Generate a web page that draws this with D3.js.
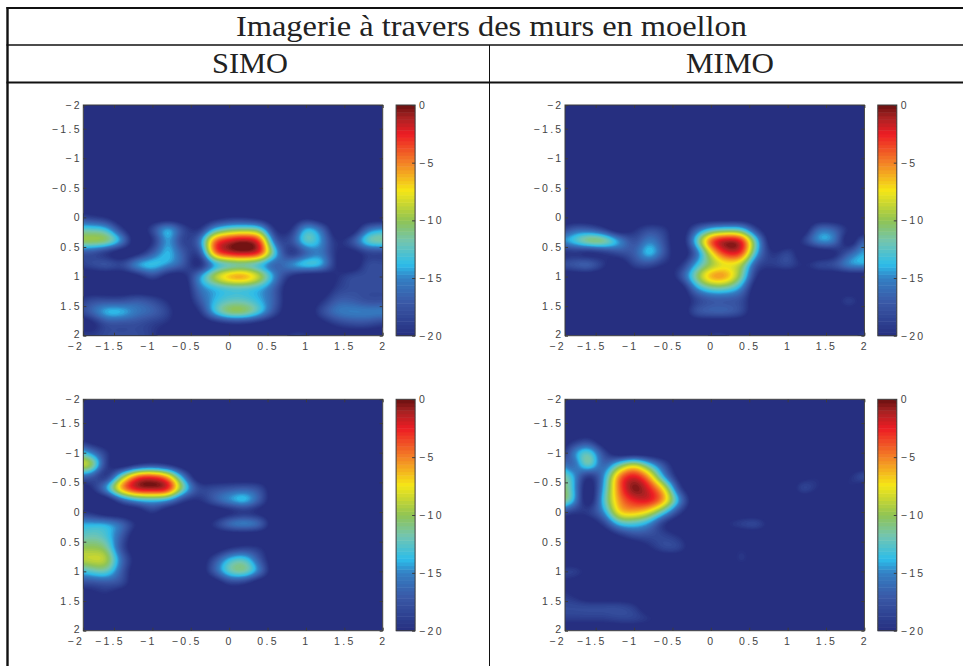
<!DOCTYPE html>
<html><head><meta charset="utf-8">
<style>html,body{margin:0;padding:0;background:#fff}svg{display:block}</style>
<script src="https://cdn.jsdelivr.net/npm/d3@7"></script></head>
<body><svg id="c" width="963" height="666"></svg>
<script>
const title = "Imagerie à travers des murs en moellon";
const columns = ["SIMO", "MIMO"];
const gridX = [-2,-1.8,-1.6,-1.4,-1.2,-1,-.8,-.6,-.4,-.2,0,.2,.4,.6,.8,1,1.2,1.4,1.6,1.8,2];
const gridY = [-2,-1.8,-1.6,-1.4,-1.2,-1,-.8,-.6,-.4,-.2,0,.2,.4,.6,.8,1,1.2,1.4,1.6,1.8,2];
const tickValues = [-1.9,-1.5,-1,-.5,0,.5,1,1.5,2];
const tickLabels = ["\u22122","\u22121.5","\u22121","\u22120.5","0","0.5","1","1.5","2"];
const barTicks = [0,-5,-10,-15,-20];
const barLabels = ["0","\u22125","\u221210","\u221215","\u221220"];
const colorStops = [-20,-17,-15,-13.8,-11.8,-10,-7.4,-5,-2.5,-1,0];
const colorValues = ["#262f80","#3a5aa8","#3480c4","#2dbdea","#73c5b0","#90c454","#f5e616","#f38226","#ed1c24","#a52222","#6a1010"];
const o = -22;
const e = [o,o,o,o,o,o,o,o,o,o,o,o,o,o,o,o,o,o,o,o,o];

const simoTop = [e,e,e,e,e,e,e,e,e,e,
 [-18,-19,-20,o,o,o,o,o,o,-21,-20,-20,-21,o,o,-20.5,o,o,o,o,o],
 [-12.5,-12.5,-13.5,-19,o,-18,-13.5,-18,-20,-14,-11.5,-11,-12,-20,-20,-13.5,-16,o,o,-16,-14.5],
 [-9.5,-9.5,-10,-14.5,o,-20,-14,-19,-16.5,-4.5,-1.5,-.3,-3,-17,-18,-12,-14.5,-20,-17.5,-12,-11],
 [-18,-18,-20,o,-21,-17,-13.5,-17,-19,-5,-1.5,-.8,-2.5,-13,-20,-17,-15.5,-20,-21,-19,-19],
 [-19,-18,-17,-18,-14,-13,-14.5,-17,-21,-15,-13,-12.5,-14,-17,-14.5,-12.5,-13.5,-20,o,-18,-18],
 [o,o,o,o,-21,-18,-21,-21,-15,-9,-5.5,-5,-8.5,-15,-20,o,o,-20,-18,-18,-18],
 [o,o,o,o,o,o,o,o,-16,-14,-13,-13,-14,-17,o,o,o,-19,-18,-18,-18],
 [-20,-18,-18,-18,-17,-18,-20,o,-17.5,-14,-12.5,-12.5,-14,-17,o,o,-20,-17,-17,-18,-18],
 [-19,-16.5,-13.5,-13.5,-15.5,-16.5,-18.5,o,-20,-13.5,-10,-10,-13,-18,o,o,-18,-15.5,-15,-15,-15],
 [o,-21,-18,-18,-18,-19,-20,o,o,-21,-20,-20,-21,o,o,o,-21,-19,-18,-18,-19],
 [-18,-19,-18,-18,-18,-19,o,o,o,o,o,o,o,o,-19,-19,o,o,o,o,o]];

const mimoTop = [e,e,e,e,e,e,e,e,e,e,e,
 [-20,-17,-17,-19,o,-20,-18,-19,o,-17,-13.5,-12.5,-13,-19,o,o,o,-16,-16.5,-20,o],
 [-15,-13,-10,-10,-14,-18,-15,-18,o,-13,-3.5,-.5,-2,-13,o,o,-19,-14.5,-15,o,-16],
 [-21,-20,-21,-20,-18,-17,-13,-17.5,o,-17,-8,-2.5,-3,-14,-20,-18,o,o,-21,-17,-14],
 [-18,-17,-16,-19,o,-18.5,-18,-20,-20,-14,-10,-8,-9.5,-18,-19,-18,-20,-18,-17.5,-14.5,-14],
 [o,o,o,o,o,o,o,o,-18,-11,-5.5,-5.5,-11,-20,o,o,o,o,o,o,o],
 [o,o,o,o,o,o,o,o,o,-15,-12,-12,-15,o,o,o,o,o,o,o,o],
 [o,o,o,o,o,o,o,o,o,-19,-17.5,-17.5,-18,o,o,o,o,o,-21,-18.5,-21],
 [o,o,o,o,o,o,o,o,o,-17.5,-16.5,-16.5,-18,o,o,o,o,o,o,-21,o],
 [o,o,o,o,o,o,o,o,o,o,o,o,o,o,o,o,o,o,o,o,-21],
 [-19,o,o,o,o,o,o,o,o,o,-19,-19,o,o,o,o,o,o,o,o,-18]];

const simoBottom = [e,e,e,e,
 [-19,-21,o,o,o,o,o,o,o,o,o,o,o,o,o,o,o,o,o,o,o],
 [-12,-15,-19,o,o,o,o,o,o,o,o,o,o,o,o,o,o,o,o,o,o],
 [-8,-9,-19,o,-20,-19,-20,o,o,o,o,o,o,o,o,o,o,o,o,o,o],
 [-16,-17,-20,-11,-4,-3,-6,-15,o,o,o,o,o,o,o,o,o,o,o,o,o],
 [o,-20,-14,-5,-1,-.3,-1.5,-11,-18,-18,-17.5,-17,-18,o,o,o,o,o,o,o,o],
 [o,o,o,-17,-14,-13.5,-14.5,-19,-20,-17,-14.5,-13,-17,o,o,o,o,o,o,o,o],
 [-19,-20,o,o,o,-19,o,o,o,o,-21,-20,-21,o,o,o,o,o,o,o,o],
 [-14,-14,-14,-16,-20,o,o,o,o,-19,-15.5,-14.5,-16,o,o,o,o,o,o,o,o],
 [-13,-12,-13,-17,o,o,o,o,o,o,o,o,o,o,o,o,o,o,o,o,o],
 [-10,-10,-11,-18,o,o,-20,o,o,o,-20,-19,-19.5,o,o,o,o,o,o,o,o],
 [-9,-8.5,-9,-16,-21,o,o,o,o,-18,-13.5,-12.5,-17.5,o,o,o,o,o,o,o,o],
 [-14,-12.5,-12,-17,o,o,o,o,o,-17,-12,-11,-15.5,o,o,o,o,o,o,o,o],
 [-18,-18,-17.5,-18,o,o,o,o,o,o,-19,-19.5,o,o,o,o,o,o,o,o,o],
 [o,-21,-20,o,o,o,o,o,o,o,o,o,o,o,o,o,o,o,o,o,o],
 e,e,e];

const mimoBottom = [e,e,e,e,
 [o,-20,-18.5,o,o,o,o,o,o,o,o,o,o,o,o,o,o,o,o,o,o],
 [o,-15.5,-12,-18,o,o,o,o,o,o,o,o,o,o,o,o,o,o,o,o,o],
 [-14,-17,-11,-17,-12,-8.5,-13,-18,o,o,o,o,o,o,o,o,o,o,o,o,o],
 [-10,-13.5,-20,-15,-5,-2,-6,-15,-21,o,o,o,o,o,o,o,-21,-20,o,-20,-17.5],
 [-9,-13,o,-14,-4.5,0,-2.5,-8,-19,o,o,o,o,o,o,o,-18,-20,-21,-20,o],
 [-9,-13,o,-13,-5.5,-2.5,-2,-6,-15,o,o,o,o,o,o,o,o,o,o,o,o],
 [-17,-19,-19,-15,-7,-6,-8,-13,-19,o,o,o,o,o,o,o,o,o,o,o,o],
 [o,o,o,-19,-13.5,-13,-15,-20,o,o,o,-20,-18.5,-18,-21,o,o,o,o,o,o],
 [o,o,o,o,-20,-18,-18,-18.5,-20,o,o,o,o,o,o,o,o,o,o,o,o],
 [o,o,o,o,o,o,-20,-18,-18.5,o,o,o,-20,o,o,o,o,o,o,o,o],
 [o,o,o,o,o,o,o,o,o,o,o,o,-19,o,o,o,o,o,o,o,-20],
 [-19,-18.5,-20.5,o,o,o,o,o,o,o,o,o,o,o,o,o,o,o,o,o,o],
 [-20,-21,o,o,o,o,o,o,o,o,o,o,o,o,o,o,o,o,o,o,o],
 [-19,-20,o,o,o,o,o,o,o,o,o,o,o,o,o,o,o,o,o,o,o],
 [-18,-18,-18,-18,-18,-19,o,o,o,o,o,o,o,o,o,o,o,o,o,o,o],
 [-19,-19,-19,-19,-18.5,-18.5,-19.5,-21,o,o,o,o,o,o,o,o,o,o,o,o,o],
 e];

const panels = [
 {grid:simoTop, x0:83.3, y0:105, y1:335.7},
 {grid:mimoTop, x0:565, y0:105, y1:335.7},
 {grid:simoBottom, x0:83.3, y0:399.3, y1:630.7},
 {grid:mimoBottom, x0:565, y0:399.3, y1:630.7}];
const plotW = 299.4, barGap = 13.4, barW = 19;

const svg = d3.select("#c");
const color = d3.scaleLinear().domain(colorStops).range(colorValues).clamp(true);
const levels = d3.range(64).map(i => -20 + i*20/64);
const UP = 8;

function catmull(p0,p1,p2,p3,t){
  return .5*(2*p1+(p2-p0)*t+(2*p0-5*p1+4*p2-p3)*t*t+(3*p1-p0-3*p2+p3)*t*t*t);
}
function upsample(g){
  const n=g.length,m=g[0].length,W=(m-1)*UP+1,H=(n-1)*UP+1,out=new Float64Array(W*H);
  const at=(r,c)=>g[Math.max(0,Math.min(n-1,r))][Math.max(0,Math.min(m-1,c))];
  for(let j=0;j<H;j++){const r=Math.floor(j/UP),tr=j/UP-r;
    for(let i=0;i<W;i++){const c=Math.floor(i/UP),tc=i/UP-c;
      const col=[-1,0,1,2].map(d=>catmull(at(r+d,c-1),at(r+d,c),at(r+d,c+1),at(r+d,c+2),tc));
      out[j*W+i]=catmull(col[0],col[1],col[2],col[3],tr);
    }}
  if(d3.blur2) d3.blur2({data:out,width:W,height:H},1.5);
  return {W,H,out};
}

panels.forEach((p,idx)=>{
  const x=d3.scaleLinear().domain([-1.9,2]).range([p.x0,p.x0+plotW]);
  const y=d3.scaleLinear().domain([-1.9,2]).range([p.y0,p.y1]);
  const g=svg.append("g");
  const id="clip"+idx;
  g.append("clipPath").attr("id",id).append("rect").attr("x",p.x0).attr("y",p.y0).attr("width",plotW).attr("height",p.y1-p.y0);
  const field=g.append("g").attr("clip-path",`url(#${id})`);
  field.append("rect").attr("x",p.x0).attr("y",p.y0).attr("width",plotW).attr("height",p.y1-p.y0).attr("fill",color(-20));
  const {W,H,out}=upsample(p.grid);
  const gx=d3.scaleLinear().domain([0,W-1]).range([gridX[0],gridX[gridX.length-1]]);
  const gy=d3.scaleLinear().domain([0,H-1]).range([gridY[0],gridY[gridY.length-1]]);
  const path=d3.geoPath(d3.geoTransform({point(a,b){this.stream.point(x(gx(a-.5)),y(gy(b-.5)));}}));
  const cs=d3.contours().size([W,H]).smooth(true).thresholds(levels)(out);
  field.selectAll("path").data(cs).join("path").attr("d",path).attr("fill",d=>color(d.value+10/64));

  const axisCol="#3c3c3c", font="'Liberation Sans',sans-serif";
  const styleText=s=>s.attr("font-family",font).attr("font-size",10.5).attr("fill","#444").attr("letter-spacing",2.3);
  const frame=(gg)=>gg.append("rect").attr("fill","none").attr("stroke",axisCol).attr("stroke-width",1);
  frame(g).attr("x",p.x0).attr("y",p.y0).attr("width",plotW).attr("height",p.y1-p.y0);
  const xa=d3.axisBottom(x).tickValues(tickValues).tickFormat((d,i)=>tickLabels[i]).tickSizeInner(-3).tickSizeOuter(0).tickPadding(6.5);
  const ya=d3.axisLeft(y).tickValues(tickValues).tickFormat((d,i)=>tickLabels[i]).tickSizeInner(-3).tickSizeOuter(0).tickPadding(1.5);
  const xg=g.append("g").attr("transform",`translate(0,${p.y1})`).call(xa);
  const yg=g.append("g").attr("transform",`translate(${p.x0},0)`).call(ya);
  [xg,yg].forEach(a=>{a.select(".domain").remove();
    a.selectAll("line").attr("stroke",axisCol);
    styleText(a.selectAll("text"));});
  xg.selectAll("text").attr("dx",(d,i)=>i==0?-8:(d<0?-4.5:0));
  yg.selectAll("text").attr("y",(d,i)=>i==tickValues.length-1?-2:0);
  g.append("g").attr("transform",`translate(0,${p.y0})`).call(d3.axisTop(x).tickValues(tickValues).tickFormat("").tickSizeInner(-3).tickSizeOuter(0))
    .call(a=>{a.select(".domain").remove();a.selectAll("line").attr("stroke",axisCol)});
  g.append("g").attr("transform",`translate(${p.x0+plotW},0)`).call(d3.axisRight(y).tickValues(tickValues).tickFormat("").tickSizeInner(-3).tickSizeOuter(0))
    .call(a=>{a.select(".domain").remove();a.selectAll("line").attr("stroke",axisCol)});
  const bx=p.x0+plotW+barGap;
  const by=d3.scaleLinear().domain([0,-20]).range([p.y0,p.y1]);
  g.append("g").selectAll("rect").data(levels).join("rect")
    .attr("x",bx).attr("width",barW)
    .attr("y",d=>by(d+20/64)).attr("height",d=>by(d)-by(d+20/64)+.5)
    .attr("fill",d=>color(d+10/64));
  frame(g).attr("x",bx).attr("y",p.y0).attr("width",barW).attr("height",p.y1-p.y0);
  const ba=d3.axisRight(by).tickValues(barTicks).tickFormat((d,i)=>barLabels[i]).tickSizeInner(-3).tickSizeOuter(0).tickPadding(4);
  const bg=g.append("g").attr("transform",`translate(${bx+barW},0)`).call(ba);
  bg.select(".domain").remove();
  bg.selectAll("line").attr("stroke",axisCol);
  styleText(bg.selectAll("text"));
});

const rule=(x1,y1,x2,y2,w)=>svg.append("line").attr("x1",x1).attr("y1",y1).attr("x2",x2).attr("y2",y2).attr("stroke","#111").attr("stroke-width",w);
rule(7.5,7,7.5,666,2.4);
rule(6.5,8,963,8,2);
rule(6.5,45,963,45,1.5);
rule(6.5,82.5,963,82.5,2);
rule(489.5,45,489.5,666,1);
const serif="'Liberation Serif',serif";
svg.append("text").attr("x",491.5).attr("y",36).attr("text-anchor","middle").attr("font-family",serif).attr("font-size",30).attr("fill","#222").attr("textLength",511).attr("lengthAdjust","spacingAndGlyphs").text(title);
const colX=[250,730], colW=[76,88];
svg.selectAll(".col").data(columns).join("text").attr("class","col")
  .attr("x",(d,i)=>colX[i]).attr("y",73).attr("text-anchor","middle").attr("font-family",serif).attr("font-size",30).attr("fill","#222")
  .attr("textLength",(d,i)=>colW[i]).attr("lengthAdjust","spacingAndGlyphs").text(d=>d);
</script></body></html>
